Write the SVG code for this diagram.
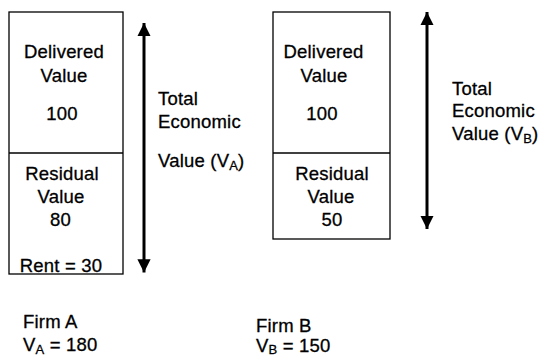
<svg xmlns="http://www.w3.org/2000/svg" width="540" height="356" viewBox="0 0 540 356">
  <defs>
    <marker id="head" viewBox="0 0 10 10" refX="10" refY="5" markerWidth="4.4" markerHeight="4.4" markerUnits="strokeWidth" orient="auto-start-reverse">
      <path d="M0,0 L10,5 L0,10 Z" fill="#000"/>
    </marker>
  </defs>
  <style>
    .box { fill: #fff; stroke: #000; stroke-width: 1.3; }
    .div { stroke: #000; stroke-width: 1.3; }
    .arrow { stroke: #000; stroke-width: 3; fill: none; }
    text { font-family: "Liberation Sans", Arial, sans-serif; font-size: 18.5px; letter-spacing: 0.2px; fill: #000; stroke: #000; stroke-width: 0.3px; }
    .c { text-anchor: middle; }
    .sub { font-size: 13px; }
  </style>
  <rect width="540" height="356" fill="#fff"/>

  <!-- Firm A value stack -->
  <g id="firm-a">
    <rect class="box" x="9" y="12" width="114" height="262"/>
    <line class="div" x1="9" y1="153" x2="123" y2="153"/>
    <text class="c" x="64" y="58">Delivered</text>
    <text class="c" x="64" y="82">Value</text>
    <text class="c" x="62" y="120">100</text>
    <text class="c" x="62" y="180">Residual</text>
    <text class="c" x="61" y="203">Value</text>
    <text class="c" x="60.5" y="226">80</text>
    <text class="c" x="61" y="272">Rent = 30</text>
  </g>

  <!-- Firm B value stack -->
  <g id="firm-b">
    <rect class="box" x="273" y="12" width="117" height="227"/>
    <line class="div" x1="273" y1="153" x2="390" y2="153"/>
    <text class="c" x="323.5" y="58">Delivered</text>
    <text class="c" x="324" y="82">Value</text>
    <text class="c" x="322" y="120">100</text>
    <text class="c" x="332" y="180">Residual</text>
    <text class="c" x="331" y="203">Value</text>
    <text class="c" x="332" y="226">50</text>
  </g>

  <!-- Total economic value labels -->
  <g id="label-a">
    <text x="158" y="105">Total</text>
    <text x="158" y="128">Economic</text>
    <text x="158" y="167">Value (V<tspan class="sub" dy="3">A</tspan><tspan dy="-3">)</tspan></text>
  </g>
  <g id="label-b">
    <text x="452" y="95">Total</text>
    <text x="452" y="117">Economic</text>
    <text x="452" y="140">Value (V<tspan class="sub" dy="3">B</tspan><tspan dy="-3">)</tspan></text>
  </g>

  <!-- Firm captions -->
  <g id="caption-a">
    <text x="23" y="328">Firm A</text>
    <text x="23" y="351">V<tspan class="sub" dy="3">A</tspan><tspan dy="-3"> = 180</tspan></text>
  </g>
  <g id="caption-b">
    <text x="256" y="332">Firm B</text>
    <text x="256" y="352">V<tspan class="sub" dy="2">B</tspan><tspan dy="-2"> = 150</tspan></text>
  </g>

  <!-- Double-headed span arrows -->
  <g id="connectors">
    <line class="arrow" x1="144" y1="23" x2="144" y2="272.5" marker-start="url(#head)" marker-end="url(#head)"/>
    <line class="arrow" x1="427" y1="12" x2="427" y2="229" marker-start="url(#head)" marker-end="url(#head)"/>
  </g>
</svg>
